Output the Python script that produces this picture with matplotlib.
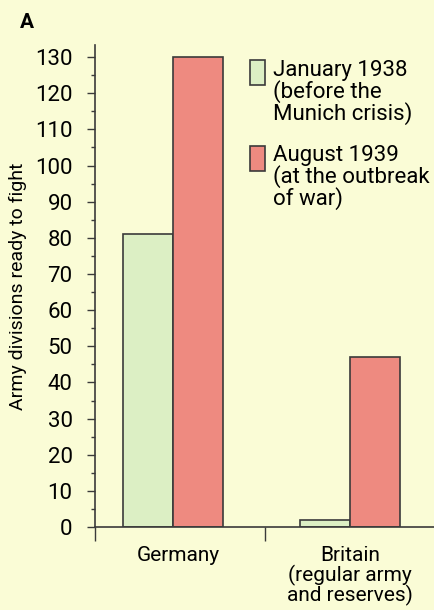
import matplotlib.pyplot as plt
from matplotlib.patches import Rectangle
from matplotlib.ticker import MultipleLocator

# values
countries = ['Germany', 'Britain\n(regular army\nand reserves)']
jan_1938 = [81, 2]
aug_1939 = [130, 47]
series_labels = ['January 1938\n(before the\nMunich crisis)',
                 'August 1939\n(at the outbreak\nof war)']

bg = '#fafcd6'
green = '#dcefc4'
red = '#ee8a80'
edge = '#3a3a3a'

plt.rcParams['font.family'] = ['Roboto', 'DejaVu Sans']

fig = plt.figure(figsize=(4.35, 6.1), dpi=100, facecolor=bg)
ax = fig.add_axes([0.218, 0.136, 0.782, 0.79])
ax.set_facecolor(bg)

centers = [0.46, 1.5]
w = 0.295
ax.bar([c - w / 2 for c in centers], jan_1938, width=w, color=green,
       edgecolor=edge, linewidth=1.2)
ax.bar([c + w / 2 for c in centers], aug_1939, width=w, color=red,
       edgecolor=edge, linewidth=1.2)

ax.set_xlim(0, 2)
ax.set_ylim(0, 133.3)
ax.yaxis.set_major_locator(MultipleLocator(10))
ax.yaxis.set_minor_locator(MultipleLocator(5))
ax.tick_params(axis='y', which='major', length=6, width=1, labelsize=16,
               color=edge, pad=10)
ax.tick_params(axis='y', which='minor', length=3, width=1, color=edge)

ax.set_xticks([0, 1, 2])
ax.set_xticklabels([])
ax.set_xticks([c + 0.03 for c in centers[:1]] + centers[1:], minor=True)
ax.set_xticklabels(countries, minor=True, fontsize=15, linespacing=0.95)
ax.tick_params(axis='x', which='major', length=10, width=1, color=edge)
ax.tick_params(axis='x', which='minor', length=0, pad=14)

for s in ['top', 'right']:
    ax.spines[s].set_visible(False)
for s in ['left', 'bottom']:
    ax.spines[s].set_color(edge)
    ax.spines[s].set_linewidth(1.2)

ax.set_ylabel('Army divisions ready to fight', fontsize=14, labelpad=6)

# legend drawn by hand so the swatch sits beside the first line
for i, (lab, col) in enumerate(zip(series_labels, [green, red])):
    y0 = 0.9 - i * 0.14
    fig.patches.append(Rectangle((250 / 435, y0 - 0.04), 15 / 435, 25 / 610,
                                 transform=fig.transFigure, facecolor=col,
                                 edgecolor=edge, linewidth=1.2))
    fig.text(273 / 435, y0 + 0.002, lab, fontsize=16, va='top', ha='left',
             linespacing=0.95)

fig.text(20 / 435, 1 - 22 / 610, 'A', fontsize=15, fontweight='bold',
         va='center', ha='left')

fig.savefig('out.png', dpi=100, facecolor=bg)
